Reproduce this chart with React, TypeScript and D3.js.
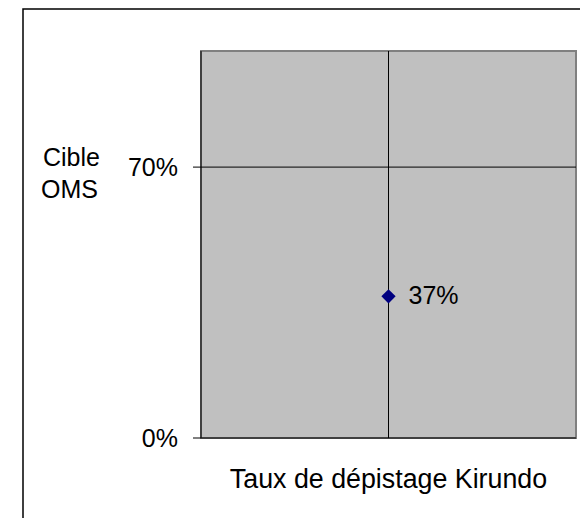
import React from "react";
import * as d3 from "d3";

const categories = ["Taux de dépistage Kirundo"];
const values = [37];
const valueLabels = ["37%"];
const targetValue = 70;
const targetLabel = ["Cible", "OMS"];
const yTicks = [0, 70];
const yDomain = [0, 100];

export default function App() {
  const W = 580;
  const H = 518;
  const plot = { left: 201, right: 576, top: 51, bottom: 438 };
  const y = d3.scaleLinear().domain(yDomain).range([plot.bottom, plot.top]);
  const x = d3.scalePoint<string>().domain(categories).range([plot.left, plot.right]).padding(0.5);
  const font = "'Liberation Sans', Arial, sans-serif";
  const fs = 25;
  const diamond = d3.symbol().type(d3.symbolDiamond2).size(130)();

  return (
    <svg width={W} height={H} style={{ position: "absolute", left: 0, top: 0, background: "#fff" }} fontFamily={font}>
      <rect x={23} y={9} width={W} height={H} fill="#fff" stroke="#000" strokeWidth={1.5} />
      {/* plot area */}
      <rect x={plot.left} y={plot.top} width={plot.right - plot.left} height={plot.bottom - plot.top} fill="#C0C0C0" stroke="#808080" strokeWidth={2} />
      {/* target gridline */}
      <line x1={plot.left} x2={plot.right} y1={y(targetValue)} y2={y(targetValue)} stroke="#000" strokeWidth={1} />
      {/* category line */}
      {categories.map((c) => (
        <line key={c} x1={x(c)} x2={x(c)} y1={plot.top} y2={plot.bottom} stroke="#000" strokeWidth={1} />
      ))}
      {/* axes */}
      <line x1={plot.left} x2={plot.left} y1={plot.top} y2={plot.bottom} stroke="#000" strokeWidth={1} />
      <line x1={plot.left} x2={plot.right} y1={plot.bottom} y2={plot.bottom} stroke="#000" strokeWidth={1} />
      {yTicks.map((t) => (
        <g key={t}>
          <line x1={plot.left - 8} x2={plot.left} y1={y(t)} y2={y(t)} stroke="#000" strokeWidth={1} />
          <text x={178} y={y(t) + 8.5} textAnchor="end" fontSize={fs} fill="#000">{`${t}%`}</text>
        </g>
      ))}
      {/* target label */}
      <text x={43} y={166} fontSize={fs} fill="#000">{targetLabel[0]}</text>
      <text x={41} y={198} fontSize={fs} fill="#000">{targetLabel[1]}</text>
      {/* points */}
      {categories.map((c, i) => (
        <g key={c}>
          <path d={diamond || ""} transform={`translate(${x(c)},${y(values[i]) + 1.5})`} fill="#000080" />
          <text x={(x(c) as number) + 20} y={y(values[i]) + 9.5} fontSize={fs} fill="#000">{valueLabels[i]}</text>
        </g>
      ))}
      {/* x title */}
      <text x={x(categories[0])} y={487.5} textAnchor="middle" fontSize={26.8} fill="#000">{categories[0]}</text>
    </svg>
  );
}
